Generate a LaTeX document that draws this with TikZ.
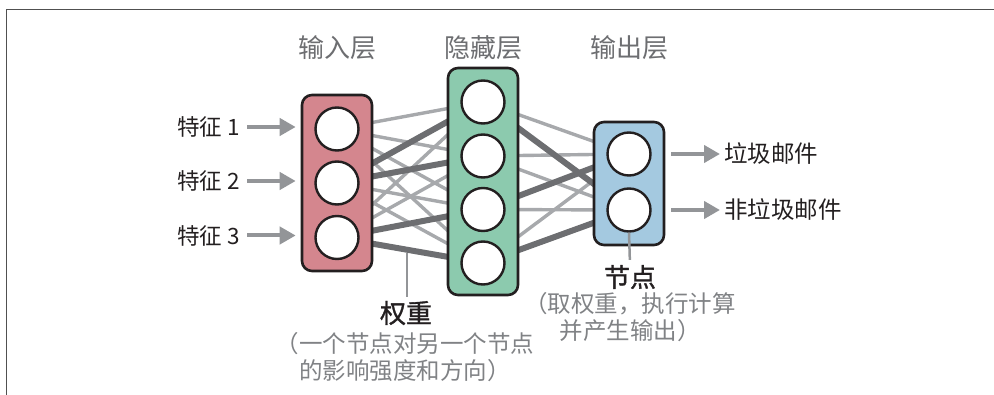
\documentclass[tikz,border=0pt]{standalone}
\usepackage{fontspec}
\setmainfont{Noto Sans CJK SC}
\newfontfamily\cjkmed[FakeBold=1.3]{Noto Sans CJK SC}
\usetikzlibrary{arrows.meta,backgrounds,calc}
\definecolor{inpink}{RGB}{212,134,142}
\definecolor{hidgreen}{RGB}{140,202,174}
\definecolor{outblue}{RGB}{164,201,224}
\definecolor{bordc}{RGB}{35,31,32}
\definecolor{darkc}{RGB}{109,110,113}
\definecolor{lightc}{RGB}{167,169,172}
\definecolor{arrc}{RGB}{147,149,152}
\definecolor{titlec}{RGB}{109,110,113}
\definecolor{notec}{RGB}{128,130,133}
\definecolor{textc}{RGB}{35,31,32}
\definecolor{framec}{RGB}{80,80,80}
\begin{document}
\begin{tikzpicture}[x=1pt,y=-1pt,
  layerbox/.style={draw=bordc, line width=2.6pt, rounded corners=10pt, inner sep=0},
  neuron/.style={circle, draw=bordc, fill=white, line width=2.4pt, minimum size=43pt, inner sep=0},
  wlight/.style={draw=lightc, line width=3.4pt},
  wdark/.style={draw=darkc, line width=6pt},
  ioarrow/.style={draw=arrc, line width=4pt, -{Triangle[length=16pt,width=17pt]}},
  pointer/.style={draw=arrc, line width=2.5pt},
  title/.style={text=titlec, font=\fontsize{26}{30}\selectfont, inner sep=0},
  feat/.style={text=textc, font=\fontsize{22.5}{26}\selectfont, inner sep=0},
  outlbl/.style={text=textc, font=\fontsize{23.5}{28}\selectfont, inner sep=0},
  keylbl/.style={text=textc, font=\cjkmed\fontsize{26}{30}\selectfont, inner sep=0},
  note/.style={text=notec, font=\fontsize{23.5}{27}\selectfont, inner sep=0, align=center}
]
\useasboundingbox (0,0) rectangle (994,395);
% frame (top and left edges)
\draw[framec, line width=1.8pt] (994,9.5) -- (6.5,9.5) -- (6.5,395);

% layer boxes
\node[layerbox, fill=inpink, minimum width=70pt, minimum height=176pt] (inbox) at (337,183) {};
\node[layerbox, fill=hidgreen, minimum width=70pt, minimum height=227pt] (hidbox) at (483,181.5) {};
\node[layerbox, fill=outblue, minimum width=70pt, minimum height=123pt] (outbox) at (629,183.5) {};

% neurons
\node[neuron] (i1) at (337,129) {};
\node[neuron] (i2) at (337,183) {};
\node[neuron] (i3) at (337,237.5) {};
\node[neuron] (h1) at (483,102) {};
\node[neuron] (h2) at (483,156) {};
\node[neuron] (h3) at (483,209.5) {};
\node[neuron] (h4) at (483,263) {};
\node[neuron] (o1) at (629,154) {};
\node[neuron] (o2) at (629,210) {};

% weights
\begin{pgfonlayer}{background}
\draw[wlight] (i1.center) -- (h1.center);
\draw[wlight] (i1.center) -- (h2.center);
\draw[wlight] (i1.center) -- (h3.center);
\draw[wlight] (i1.center) -- (h4.center);
\draw[wlight] (i2.center) -- (h3.center);
\draw[wlight] (i2.center) -- (h4.center);
\draw[wlight] (i3.center) -- (h1.center);
\draw[wlight] (i3.center) -- (h2.center);
\draw[wlight] (h1.center) -- (o1.center);
\draw[wlight] (h2.center) -- (o1.center);
\draw[wlight] (h2.center) -- (o2.center);
\draw[wlight] (h3.center) -- (o2.center);
\draw[wlight] (h4.center) -- (o1.center);
\draw[wdark] (i2.center) -- (h1.center);
\draw[wdark] (i2.center) -- (h2.center);
\draw[wdark] (i3.center) -- (h3.center);
\draw[wdark] (i3.center) -- (h4.center);
\draw[wdark] (h1.center) -- (o2.center);
\draw[wdark] (h3.center) -- (o1.center);
\draw[wdark] (h4.center) -- (o2.center);
\end{pgfonlayer}

% titles
\node[title] (tin) at (337,48) {输入层};
\node[title] (thid) at (483,48) {隐藏层};
\node[title] (tout) at (629,48) {输出层};

% inputs
\node[feat, anchor=east] (f1) at (240,127) {特征 1};
\node[feat, anchor=east] (f2) at (240,181) {特征 2};
\node[feat, anchor=east] (f3) at (240,235.5) {特征 3};
\draw[ioarrow, shorten <=7pt, shorten >=5pt] (f1.east) -- (f1.east -| inbox.west);
\draw[ioarrow, shorten <=7pt, shorten >=5pt] (f2.east) -- (f2.east -| inbox.west);
\draw[ioarrow, shorten <=7pt, shorten >=5pt] (f3.east) -- (f3.east -| inbox.west);

% outputs
\node[outlbl, anchor=west] (s1) at (724,154) {垃圾邮件};
\node[outlbl, anchor=west] (s2) at (724,210) {非垃圾邮件};
\draw[ioarrow, shorten <=6pt, shorten >=4pt] (s1.west -| outbox.east) -- (s1.west);
\draw[ioarrow, shorten <=6pt, shorten >=4pt] (s2.west -| outbox.east) -- (s2.west);

% weight annotation
\node[keylbl] (wlbl) at (406,313) {权重};
\node[note] (wnote) at (405,357) {（一个节点对另一个节点\\的影响强度和方向）};
\coordinate (wpt) at ($(i3.center)!0.479!(h4.center)$);
\draw[pointer, shorten <=3pt, shorten >=4pt] (wpt) -- (wpt |- wlbl.north);

% node annotation
\node[keylbl] (nlbl) at (630,277) {节点};
\node[note] (nnote) at (630,317) {（取权重，执行计算\\并产生输出）};
\draw[pointer, shorten >=5pt] (o2.south) -- (nlbl.north);
\end{tikzpicture}
\end{document}
